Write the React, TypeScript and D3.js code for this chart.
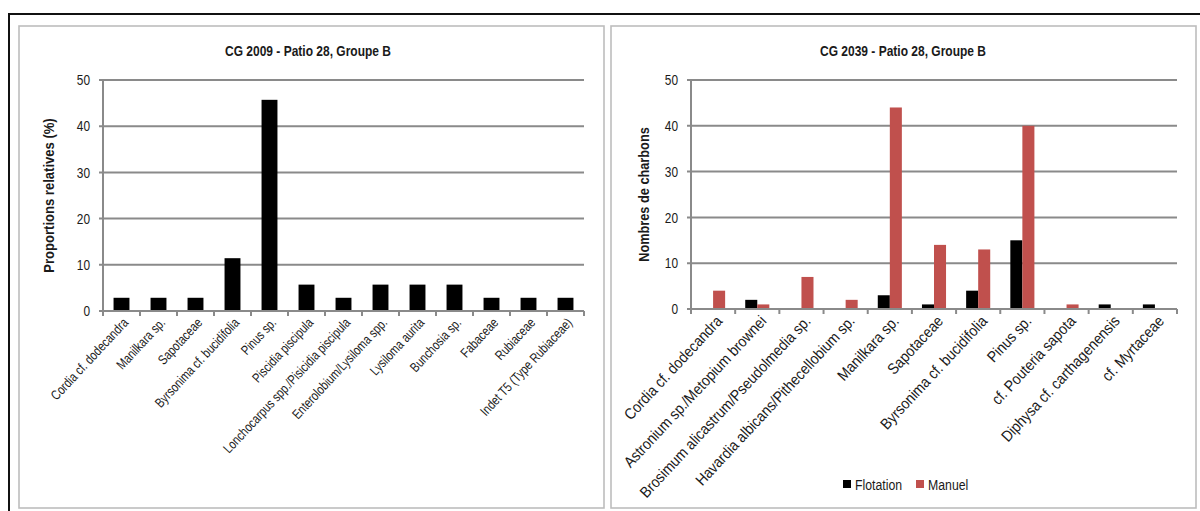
import React from "react";
import * as d3 from "d3";

const leftCats = [
  "Cordia cf. dodecandra",
  "Manilkara sp.",
  "Sapotaceae",
  "Byrsonima cf. bucidifolia",
  "Pinus sp.",
  "Piscidia piscipula",
  "Lonchocarpus spp./Pisicidia piscipula",
  "Enterolobium/Lysiloma spp.",
  "Lysiloma aurita",
  "Bunchosia sp.",
  "Fabaceae",
  "Rubiaceae",
  "Indet T5 (Type Rubiaceae)",
];
const leftValues = [2.86, 2.86, 2.86, 11.43, 45.71, 5.71, 2.86, 5.71, 5.71, 5.71, 2.86, 2.86, 2.86];

const rightCats = [
  "Cordia cf. dodecandra",
  "Astronium sp./Metopium brownei",
  "Brosimum alicastrum/Pseudolmedia sp.",
  "Havardia albicans/Pithecellobium sp.",
  "Manilkara sp.",
  "Sapotaceae",
  "Byrsonima cf. bucidifolia",
  "Pinus sp.",
  "cf. Pouteria sapota",
  "Diphysa cf. carthagenensis",
  "cf. Myrtaceae",
];
const flotation = [0, 2, 0, 0, 3, 1, 4, 15, 0, 1, 1];
const manuel = [4, 1, 7, 2, 44, 14, 13, 40, 1, 0, 0];
const seriesNames = ["Flotation", "Manuel"];
const seriesColors = ["#000000", "#C0504D"];
const yTicks = [0, 10, 20, 30, 40, 50];

const FONT = "'Liberation Sans', Arial, sans-serif";
const NARROW = 0.82; // simulate Arial Narrow along the text direction
const GRID = "#8a8a8a";
const TXT = "#1a1a1a";

function Panel({ x0, x1, y0, y1 }: { x0: number; x1: number; y0: number; y1: number }) {
  return <rect x={x0} y={y0} width={x1 - x0} height={y1 - y0} fill="#fff" stroke="#bdbdbd" strokeWidth={1.6} />;
}

function NText({
  x,
  y,
  rot = 0,
  sx = NARROW,
  anchor = "start",
  size,
  bold = false,
  dy = "0",
  children,
}: {
  x: number;
  y: number;
  rot?: number;
  sx?: number;
  anchor?: string;
  size: number;
  bold?: boolean;
  dy?: string;
  children: React.ReactNode;
}) {
  return (
    <text
      transform={`translate(${x},${y}) rotate(${rot}) scale(${sx},1)`}
      textAnchor={anchor}
      dy={dy}
      fontSize={size}
      fontWeight={bold ? "bold" : "normal"}
      fontFamily={FONT}
      fill={TXT}
    >
      {children}
    </text>
  );
}

function YAxis({ y, xl, xr }: { y: d3.ScaleLinear<number, number>; xl: number; xr: number }) {
  return (
    <g>
      {yTicks.map((t) => (
        <g key={t}>
          <line x1={xl - 4} x2={xr} y1={y(t)} y2={y(t)} stroke={GRID} strokeWidth={2} />
          <NText x={xl - 13} y={y(t)} dy="0.36em" anchor="end" size={14.5}>
            {t}
          </NText>
        </g>
      ))}
      <line x1={xl} x2={xl} y1={y(50)} y2={y(0)} stroke={GRID} strokeWidth={2} />
    </g>
  );
}

function XAxis({
  x,
  cats,
  y0,
  size,
  sx,
  rot,
  dx,
}: {
  x: d3.ScaleBand<string>;
  cats: string[];
  y0: number;
  size: number;
  sx: number;
  rot: number;
  dx: number;
}) {
  const r = x.range();
  const ticks = cats.map((c) => x(c)!).concat([r[1]]);
  return (
    <g>
      <line x1={r[0]} x2={r[1]} y1={y0} y2={y0} stroke={GRID} strokeWidth={2} />
      {ticks.map((t, i) => (
        <line key={i} x1={t} x2={t} y1={y0} y2={y0 + 5} stroke={GRID} strokeWidth={2} />
      ))}
      {cats.map((c) => {
        const cx = x(c)! + x.bandwidth() / 2;
        return (
          <NText key={c} x={cx + dx} y={y0 + 9} rot={rot} sx={sx} anchor="end" dy="0.36em" size={size}>
            {c}
          </NText>
        );
      })}
    </g>
  );
}

export default function App() {
  const yL = d3.scaleLinear().domain([0, 50]).range([311, 80]);
  const xL = d3.scaleBand<string>().domain(leftCats).range([103, 584]);
  const barWL = xL.bandwidth() * 0.43;

  const yR = d3.scaleLinear().domain([0, 50]).range([309, 80]);
  const xR = d3.scaleBand<string>().domain(rightCats).range([691, 1177]);
  const pairW = xR.bandwidth() * 0.545;
  const xS = d3.scaleBand<string>().domain(seriesNames).range([0, pairW]);
  const seriesData = [flotation, manuel];

  return (
    <svg width={1200} height={511} style={{ position: "absolute", left: 0, top: 0 }}>
      <rect x={0} y={0} width={1200} height={511} fill="#fff" />
      <line x1={9} x2={1200} y1={14} y2={14} stroke="#111" strokeWidth={2} />
      <line x1={9} x2={9} y1={13} y2={511} stroke="#111" strokeWidth={2} />
      <Panel x0={19} x1={604} y0={26} y1={508} />
      <Panel x0={611} x1={1196} y0={26} y1={508} />

      {/* Left chart */}
      <NText x={308} y={56} anchor="middle" size={15} sx={0.8} bold>
        CG 2009 - Patio 28, Groupe B
      </NText>
      <NText x={54} y={(yL(0) + yL(50)) / 2} rot={-90} sx={0.9} anchor="middle" size={14.5} bold>
        Proportions relatives (%)
      </NText>
      <YAxis y={yL} xl={103} xr={584} />
      {leftCats.map((c, i) => (
        <rect
          key={c}
          x={xL(c)! + (xL.bandwidth() - barWL) / 2}
          y={yL(leftValues[i])}
          width={barWL}
          height={yL(0) - yL(leftValues[i])}
          fill="#000"
        />
      ))}
      <XAxis x={xL} cats={leftCats} y0={311} size={13.5} sx={0.8} rot={-47} dx={4} />

      {/* Right chart */}
      <NText x={903} y={56} anchor="middle" size={15} sx={0.8} bold>
        CG 2039 - Patio 28, Groupe B
      </NText>
      <NText x={649} y={(yR(0) + yR(50)) / 2} rot={-90} sx={0.88} anchor="middle" size={14.5} bold>
        Nombres de charbons
      </NText>
      <YAxis y={yR} xl={691} xr={1177} />
      {rightCats.map((c, i) =>
        seriesNames.map((s, k) => {
          const v = seriesData[k][i];
          if (v <= 0) return null;
          return (
            <rect
              key={c + s}
              x={xR(c)! + (xR.bandwidth() - pairW) / 2 + xS(s)!}
              y={yR(v)}
              width={xS.bandwidth()}
              height={yR(0) - yR(v)}
              fill={seriesColors[k]}
            />
          );
        })
      )}
      <XAxis x={xR} cats={rightCats} y0={309} size={15.5} sx={0.89} rot={-47} dx={6} />

      {/* Legend */}
      {seriesNames.map((s, k) => {
        const lx = [843, 916][k];
        return (
          <g key={s}>
            <rect x={lx} y={480} width={8} height={8} fill={seriesColors[k]} />
            <NText x={lx + 12} y={489.5} size={15}>
              {s}
            </NText>
          </g>
        );
      })}
    </svg>
  );
}
